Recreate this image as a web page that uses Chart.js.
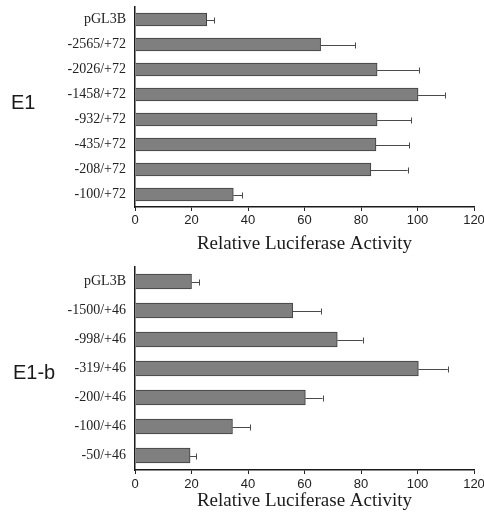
<!DOCTYPE html>
<html>
<head>
<meta charset="utf-8">
<script src="https://cdn.jsdelivr.net/npm/chart.js@4"></script>
<style>
  html, body { margin: 0; padding: 0; background: #fff; }
  body { width: 484px; height: 519px; position: relative; overflow: hidden; }
  .wrap { position: absolute; left: 0; width: 484px; }
  .panel-label { position: absolute; font-family: 'Liberation Sans', Arial, sans-serif; font-size: 20px; color: #1a1a1a; line-height: 1; }
</style>
</head>
<body>
<div class="wrap" style="top:0;height:259px;"><canvas id="c1" width="484" height="259"></canvas></div>
<div class="wrap" style="top:252px;height:267px;"><canvas id="c2" width="484" height="267"></canvas></div>
<div class="panel-label" style="left:11px;top:92px;">E1</div>
<div class="panel-label" style="left:13px;top:362px;">E1-b</div>
<script>
// ---- Data ----
const e1Categories = ['pGL3B', '-2565/+72', '-2026/+72', '-1458/+72', '-932/+72', '-435/+72', '-208/+72', '-100/+72'];
const e1Values = [25.4, 65.7, 85.7, 100.2, 85.7, 85.3, 83.5, 34.8];
const e1Errors = [2.7, 12.3, 14.8, 9.5, 12.0, 11.7, 13.0, 3.1];

const e1bCategories = ['pGL3B', '-1500/+46', '-998/+46', '-319/+46', '-200/+46', '-100/+46', '-50/+46'];
const e1bValues = [20.0, 55.8, 71.6, 100.3, 60.3, 34.5, 19.5];
const e1bErrors = [2.7, 10.0, 9.0, 10.4, 6.1, 6.2, 2.2];

const xTickValues = [0, 20, 40, 60, 80, 100, 120];
const xAxisTitle = 'Relative Luciferase Activity';

// ---- Error bar plugin (uses the chart's own scales) ----
const errorBarPlugin = {
  id: 'errorBars',
  afterDatasetsDraw(chart) {
    const ctx = chart.ctx;
    const xScale = chart.scales.x;
    chart.data.datasets.forEach((ds, di) => {
      const meta = chart.getDatasetMeta(di);
      const errs = ds.errors || [];
      meta.data.forEach((bar, i) => {
        const v = ds.data[i];
        const e = errs[i];
        if (e == null) return;
        const x0 = xScale.getPixelForValue(v);
        const x1 = xScale.getPixelForValue(v + e);
        const y = Math.round(bar.y);
        ctx.save();
        ctx.strokeStyle = '#4a4a4a';
        ctx.lineWidth = 1;
        ctx.beginPath();
        ctx.moveTo(x0, y + 0.5);
        ctx.lineTo(x1, y + 0.5);
        ctx.moveTo(Math.round(x1) + 0.5, y - 2.5);
        ctx.lineTo(Math.round(x1) + 0.5, y + 3.5);
        ctx.stroke();
        ctx.restore();
      });
    });
  }
};

function makeChart(id, categories, values, errors, opts) {
  return new Chart(document.getElementById(id), {
    type: 'bar',
    data: {
      labels: categories,
      datasets: [{
        data: values,
        errors: errors,
        backgroundColor: '#7f7f7f',
        borderColor: '#3c3c3c',
        borderWidth: 1,
        barThickness: opts.barThickness
      }]
    },
    options: {
      indexAxis: 'y',
      responsive: false,
      animation: false,
      devicePixelRatio: 1,
      layout: { padding: { top: opts.padTop, right: 10, bottom: opts.padBottom, left: 0 } },
      plugins: { legend: { display: false }, tooltip: { enabled: false }, title: { display: false } },
      scales: {
        x: {
          type: 'linear',
          min: 0,
          max: 120,
          afterBuildTicks(scale) { scale.ticks = xTickValues.map(v => ({ value: v })); },
          afterFit(scale) { scale.height = opts.xHeight; scale.paddingLeft = 0; scale.paddingRight = 0; },
          ticks: {
            padding: opts.tickPad,
            color: '#222',
            font: { family: "'Liberation Sans Narrow', 'Liberation Sans', Arial, sans-serif", size: 13 },
            maxRotation: 0
          },
          grid: { display: true, drawOnChartArea: false, drawTicks: true, tickLength: 4, color: '#222', lineWidth: 1 },
          border: { display: true, color: '#1a1a1a', width: 1.5 },
          title: {
            display: true,
            text: xAxisTitle,
            color: '#1a1a1a',
            font: { family: "'Liberation Serif', 'Times New Roman', serif", size: 19 },
            padding: { top: 4, bottom: 4 }
          }
        },
        y: {
          type: 'category',
          offset: true,
          afterFit(scale) { scale.width = 135; scale.paddingTop = 0; scale.paddingBottom = 0; },
          ticks: {
            padding: 9,
            color: '#222',
            font: { family: "'Liberation Serif', 'Times New Roman', serif", size: 14 }
          },
          grid: { display: false, drawTicks: false },
          border: { display: true, color: '#1a1a1a', width: 1.5 }
        }
      }
    },
    plugins: [errorBarPlugin]
  });
}

makeChart('c1', e1Categories, e1Values, e1Errors, { barThickness: 13, padTop: 7, padBottom: 0, xHeight: 52, tickPad: 2 });
makeChart('c2', e1bCategories, e1bValues, e1bErrors, { barThickness: 15, padTop: 15, padBottom: 3, xHeight: 46, tickPad: 3 });
</script>
</body>
</html>
